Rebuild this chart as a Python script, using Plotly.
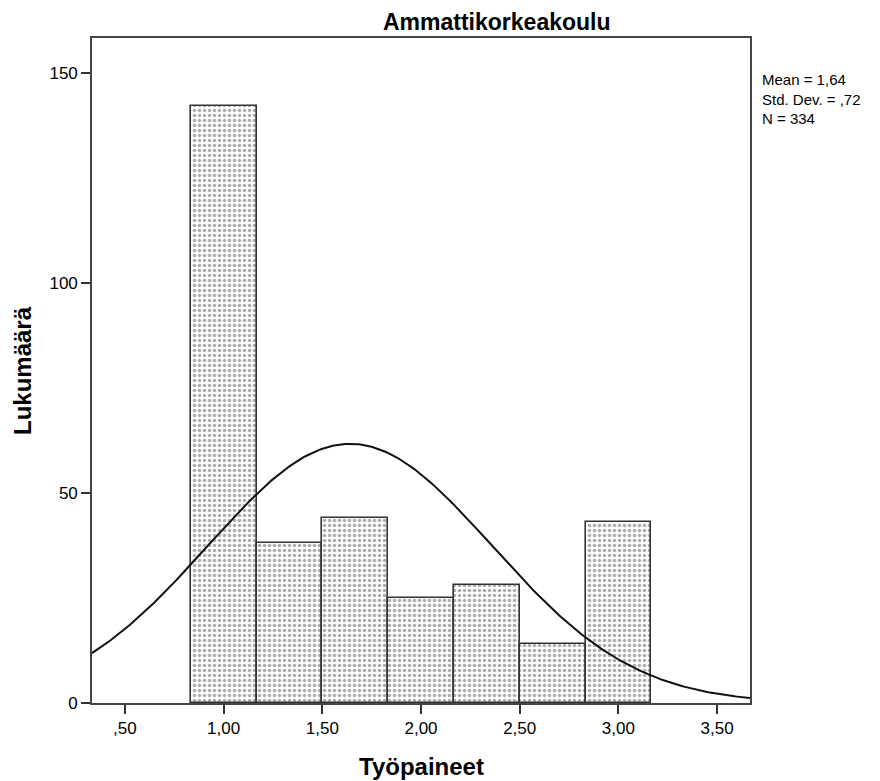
import numpy as np
import plotly.graph_objects as go

# Data
bin_centers = [1.0, 4/3, 5/3, 2.0, 7/3, 8/3, 3.0]
counts = [142, 38, 44, 25, 28, 14, 43]
bin_width = 1/3
mean_val = 1.64
sd_val = 0.72
n_val = 334
x_tickvals = [0.5, 1.0, 1.5, 2.0, 2.5, 3.0, 3.5]
x_ticktext = [",50", "1,00", "1,50", "2,00", "2,50", "3,00", "3,50"]
y_tickvals = [0, 50, 100, 150]
y_ticktext = ["0", "50", "100", "150"]
stats_lines = ["Mean = 1,64", "Std. Dev. = ,72", f"N = {n_val}"]

x_range = [1/3, 11/3]
xc = np.linspace(x_range[0], x_range[1], 300)
yc = n_val * bin_width * np.exp(-0.5 * ((xc - mean_val) / sd_val) ** 2) / (sd_val * np.sqrt(2 * np.pi))

font = "Liberation Sans, Arial, sans-serif"

# plot area in page pixels (page has 8px body offset)
PL, PR, PT, PB = 92, 750, 38, 703
PW, PH = PR - PL, PB - PT

def px(x):
    return (x - PL) / PW

def py(y):
    return (PB - y) / PH

fig = go.Figure()
fig.add_trace(go.Bar(
    x=bin_centers, y=counts, width=bin_width,
    marker=dict(color="white",
                line=dict(color="#333333", width=1.6),
                pattern=dict(shape=".", size=5, solidity=0.42, fgcolor="#5e5e5e", bgcolor="white")),
    hoverinfo="skip", showlegend=False))
fig.add_trace(go.Scatter(x=xc, y=yc, mode="lines", line=dict(color="#111111", width=2),
                         showlegend=False, hoverinfo="skip"))

annotations = [
    dict(xref="paper", yref="paper", x=px(497), y=py(22), xanchor="center", yanchor="middle",
         text="<b>Ammattikorkeakoulu</b>", showarrow=False, font=dict(size=23, family=font)),
    dict(xref="paper", yref="paper", x=px(421), y=py(766), xanchor="center", yanchor="middle",
         text="<b>Työpaineet</b>", showarrow=False, font=dict(size=24, family=font)),
    dict(xref="paper", yref="paper", x=px(23), y=py(371), xanchor="center", yanchor="middle",
         text="<b>Lukumäärä</b>", textangle=-90, showarrow=False, font=dict(size=24, family=font)),
    dict(xref="paper", yref="paper", x=px(760), y=py(69), xanchor="left", yanchor="top",
         showarrow=False, align="left", text="<br>".join(stats_lines),
         font=dict(size=15, family=font)),
]

fig.update_layout(
    width=880, height=781,
    margin=dict(l=PL - 8, r=880 - PR + 8, t=PT - 8, b=781 - PB + 8),
    paper_bgcolor="white", plot_bgcolor="white",
    font=dict(family=font, size=17, color="black"),
    bargap=0,
    xaxis=dict(range=x_range, tickvals=x_tickvals, ticktext=x_ticktext,
               showgrid=False, zeroline=False, showline=True, mirror=True,
               linecolor="#444444", linewidth=1.6, ticks="outside", ticklen=9,
               tickcolor="#333333", tickwidth=2),
    yaxis=dict(range=[0, 158.3], tickvals=y_tickvals, ticktext=y_ticktext,
               showgrid=False, zeroline=False, showline=True, mirror=True,
               linecolor="#444444", linewidth=1.6, ticks="outside", ticklen=9,
               tickcolor="#333333", tickwidth=2),
    annotations=annotations,
)
fig.write_html("out.html")
